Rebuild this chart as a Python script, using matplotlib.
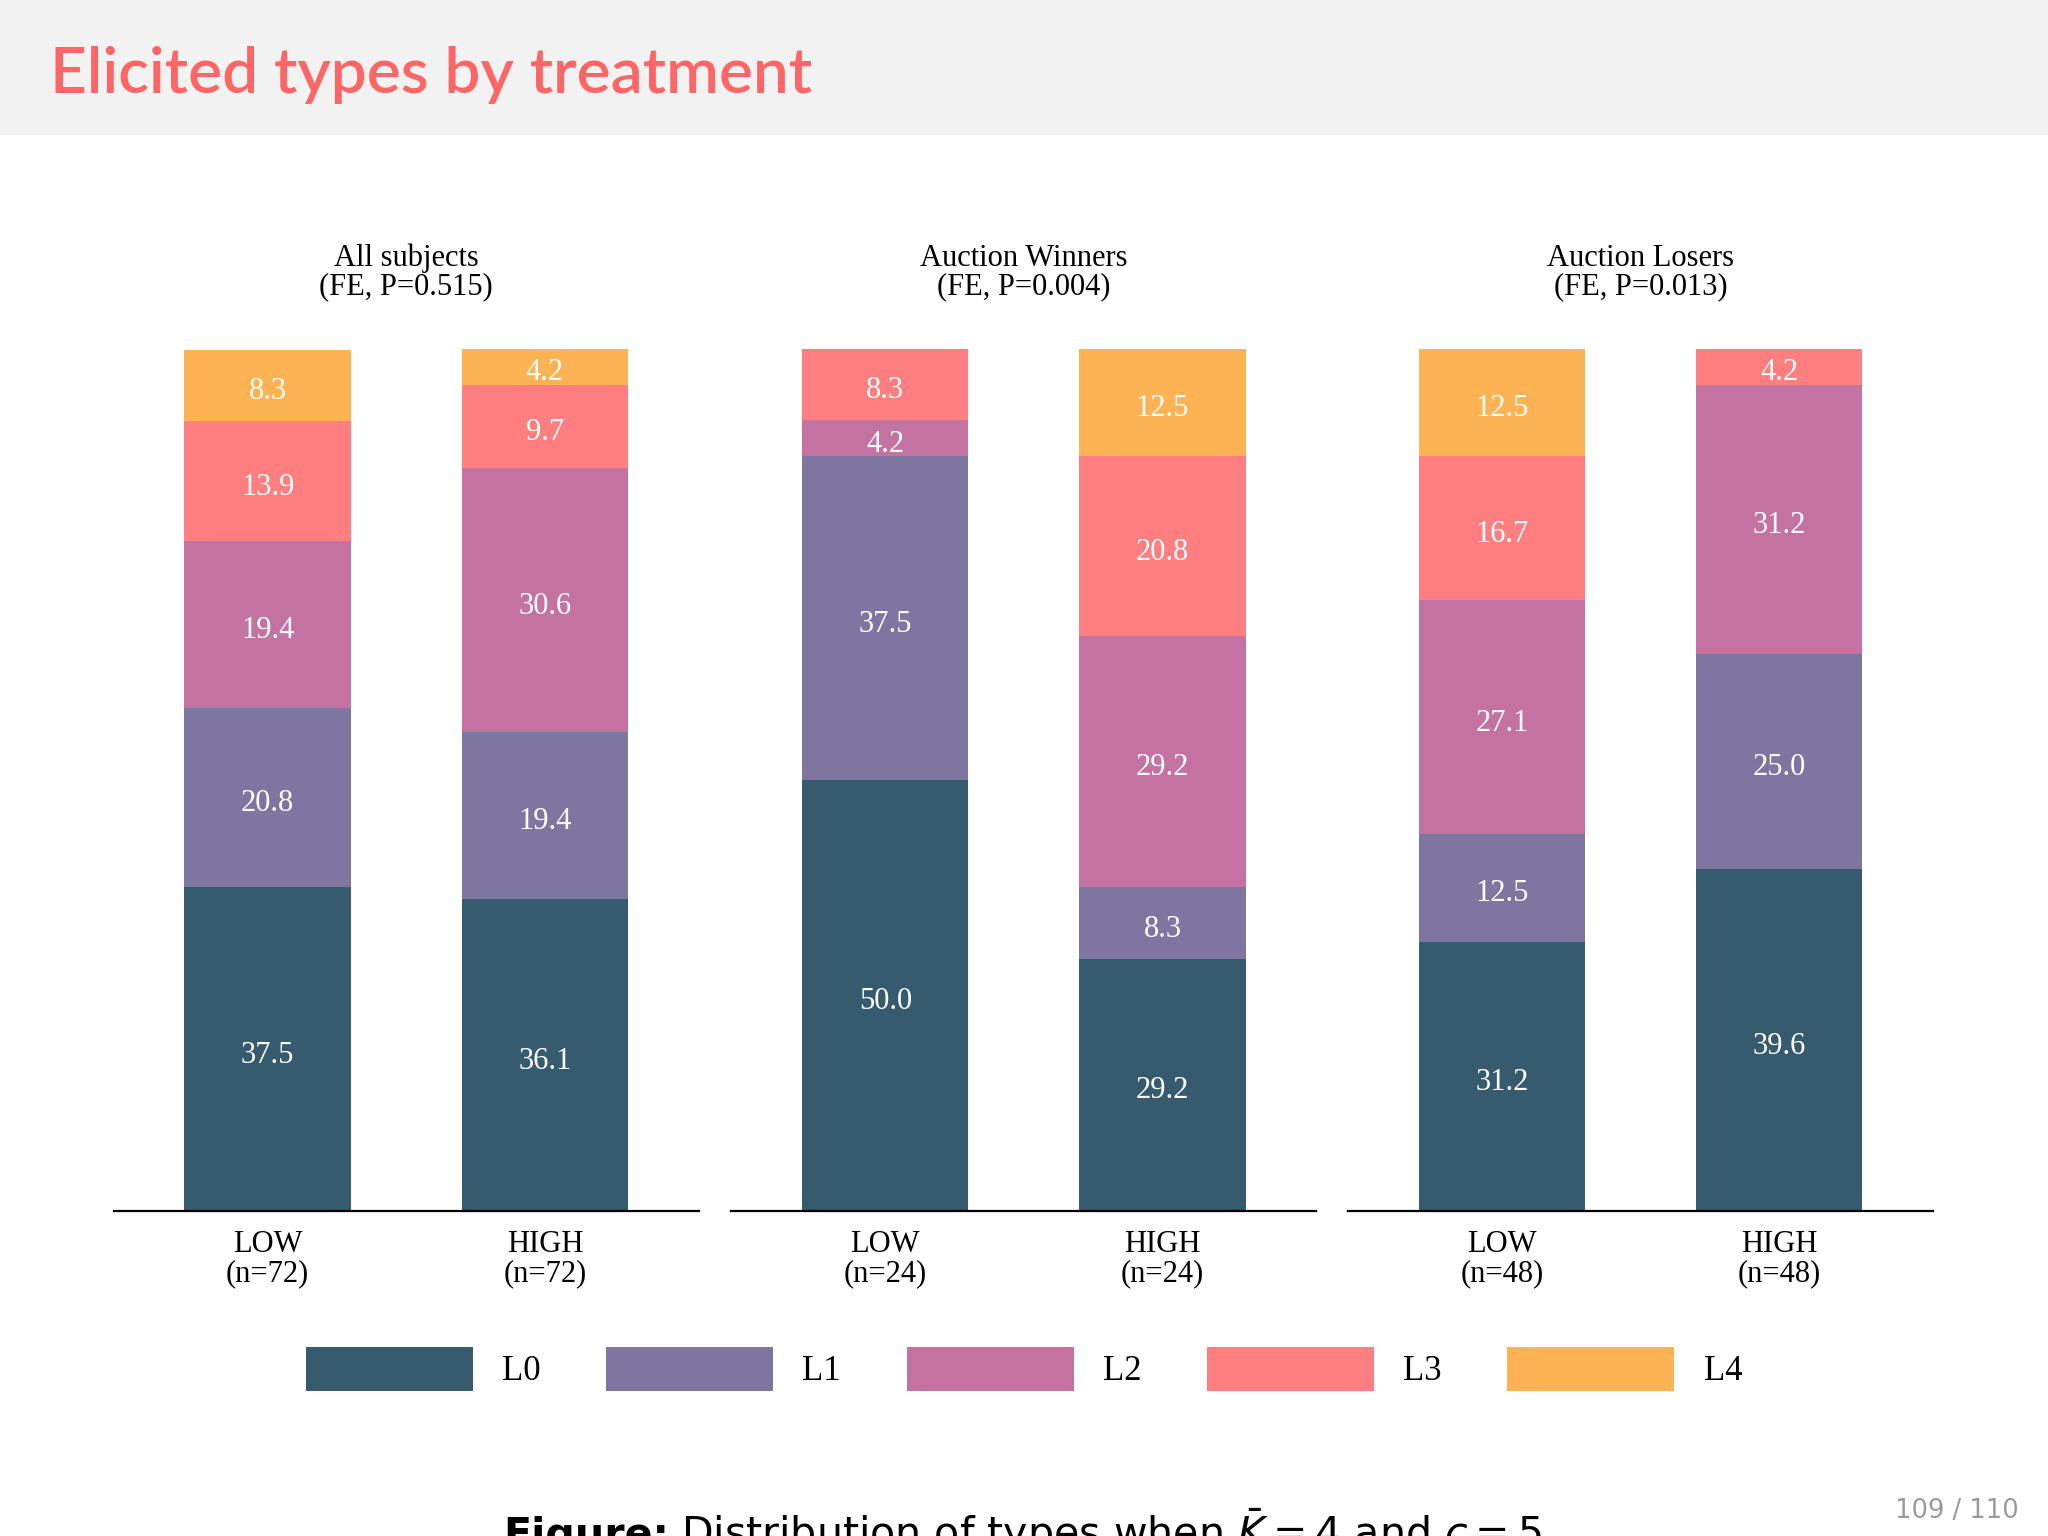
import numpy as np
import matplotlib
matplotlib.use("Agg")
import matplotlib.pyplot as plt
from matplotlib.patches import Rectangle, Patch

# data (percent of subjects per type)
panels = ["All subjects\n(FE, P=0.515)",
          "Auction Winners\n(FE, P=0.004)",
          "Auction Losers\n(FE, P=0.013)"]
ticklabels = [["LOW\n(n=72)", "HIGH\n(n=72)"],
              ["LOW\n(n=24)", "HIGH\n(n=24)"],
              ["LOW\n(n=48)", "HIGH\n(n=48)"]]
types = ["L0", "L1", "L2", "L3", "L4"]
colors = ["#365A6E", "#7E76A0", "#C472A2", "#FF7F81", "#FDB353"]

all_low = [37.5, 20.8, 19.4, 13.9, 8.3]
all_high = [36.1, 19.4, 30.6, 9.7, 4.2]
win_low = [50.0, 37.5, 4.2, 8.3, 0.0]
win_high = [29.2, 8.3, 29.2, 20.8, 12.5]
lose_low = [31.2, 12.5, 27.1, 16.7, 12.5]
lose_high = [39.6, 25.0, 31.2, 4.2, 0.0]
groups = [[all_low, all_high], [win_low, win_high], [lose_low, lose_high]]

serif = "Liberation Serif"
fs = 22

fig = plt.figure(figsize=(20.48, 15.36), dpi=100)

# header band
fig.add_artist(Rectangle((0, 0.9124), 1, 0.0876, transform=fig.transFigure,
                         facecolor="#F2F2F2", edgecolor="none", zorder=0))
fig.text(0.0244, 0.9395, "Elicited types by treatment", fontsize=46,
         family="Lato", weight="semibold", color="#FC6666", va="baseline")

lefts = [0.0555, 0.3571, 0.6582]
for k, left in enumerate(lefts):
    ax = fig.add_axes([left, 0.2118, 0.2857, 0.5612])
    x = np.arange(2)
    bottoms = np.zeros(2)
    for t in range(len(types)):
        vals = np.array([groups[k][0][t], groups[k][1][t]])
        ax.bar(x, vals, 0.6, bottom=bottoms, color=colors[t], linewidth=0)
        for i in range(2):
            if vals[i] > 0:
                ax.text(x[i], bottoms[i] + vals[i] / 2 - 0.7, f"{vals[i]:.1f}",
                        ha="center", va="center", color="white",
                        fontsize=fs, family=serif)
        bottoms += vals
    ax.set_xlim(-0.555, 1.555)
    ax.set_ylim(0, 100)
    ax.set_xticks(x)
    ax.set_xticklabels(ticklabels[k], fontsize=fs, family=serif, linespacing=1.0)
    ax.tick_params(axis="x", length=0, pad=14)
    ax.set_yticks([])
    for s in ["top", "left", "right"]:
        ax.spines[s].set_visible(False)
    ax.spines["bottom"].set_linewidth(1.6)
    ax.set_title(panels[k], fontsize=fs, family=serif, linespacing=1.0, pad=39)

handles = [Patch(facecolor=c, edgecolor="none") for c in colors]
fig.legend(handles, types, loc="center", bbox_to_anchor=(0.5, 0.1087), ncol=5,
           frameon=False, prop={"family": serif, "size": 25},
           handlelength=4.81, handleheight=1.574, handletextpad=0.84,
           columnspacing=1.89)

# caption, cut at the bottom edge as in the slide
cap = fig.text(0.2456, -0.007, "Figure:", fontsize=29.6, family="DejaVu Sans",
               weight="bold", va="baseline", ha="left")
fig.canvas.draw()
bb = cap.get_window_extent()
fig.text((bb.x1 + 12) / fig.bbox.width, -0.007,
         r"Distribution of types when $\bar{K}=4$ and $c=5$",
         fontsize=29.6, family="DejaVu Sans", va="baseline", ha="left")
fig.text(0.9855, 0.0162, "109 / 110", fontsize=18.5, family="DejaVu Sans",
         color="#9A9A9A", ha="right", va="center")

fig.savefig("out.png", dpi=100)
